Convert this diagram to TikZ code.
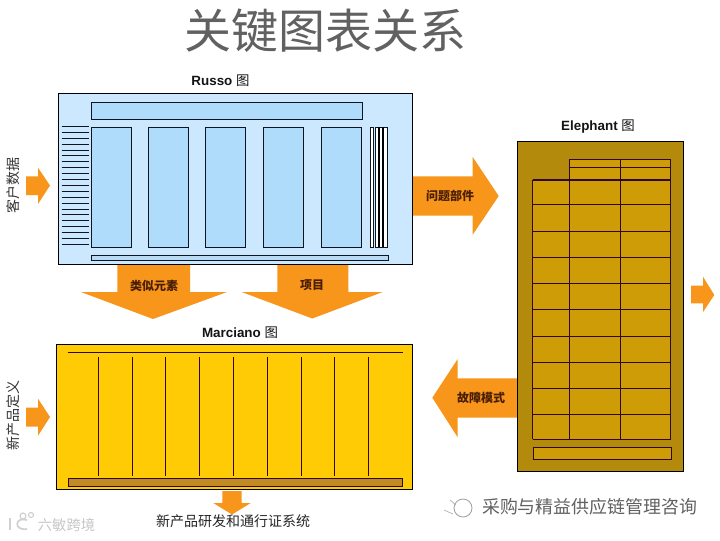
\documentclass[tikz,border=0pt]{standalone}
\usepackage{fontspec}
\setmainfont{Liberation Sans}
\newfontfamily\cjk{Noto Sans CJK SC}
\newcommand{\fpx}[1]{\fontsize{\fpeval{#1*0.75}pt}{\fpeval{#1*0.9}pt}\selectfont}
\definecolor{arrowor}{HTML}{F7961A}
\definecolor{rbg}{HTML}{CCE8FE}
\definecolor{rcol}{HTML}{AEDCFA}
\definecolor{rbar}{HTML}{BAD9F2}
\definecolor{ebg}{HTML}{B38A0C}
\definecolor{ecell}{HTML}{CE9C06}
\definecolor{mbg}{HTML}{FFCB05}
\definecolor{mbar}{HTML}{C08A24}
\definecolor{dline}{HTML}{30061A}
\definecolor{ink}{HTML}{0E1420}
\definecolor{lab}{HTML}{4A1E04}
\tikzset{
  x=0.75pt,y=-0.75pt,
  panelr/.style={draw=black,line width=0.75pt,fill=rbg,inner sep=0pt},
  panele/.style={draw=black,line width=0.75pt,fill=ebg,inner sep=0pt},
  panelm/.style={draw=black,line width=0.75pt,fill=mbg,inner sep=0pt},
  rpart/.style={draw=ink,line width=0.7pt,fill=rcol},
  rline/.style={draw=ink,line width=0.6pt},
  egrid/.style={draw=dline,line width=0.65pt},
  mline/.style={draw=dline,line width=0.65pt},
  blockarrow/.style={fill=arrowor},
  heading/.style={inner sep=0pt,font=\fpx{13.4}\bfseries,text=black!92},
  arrowlabel/.style={inner sep=0pt,font=\cjk\fpx{12}\bfseries,text=lab},
  sidelabel/.style={inner sep=0pt,font=\cjk\fpx{14},text=black!80,rotate=90},
}
\begin{document}
\begin{tikzpicture}
\useasboundingbox (0,0) rectangle (720,540);
\fill[white] (0,0) rectangle (720,540);

% title
\node[inner sep=0pt,font=\cjk\fpx{47},text=black!62] (title) at (325,31) {关键图表关系};

% block arrows (under the panels)
\fill[blockarrow] (26,176.3) -- (38,176.3) -- (38,167.7) -- (50,185.5) -- (38,204) -- (38,195) -- (26,195) -- cycle;
\fill[blockarrow] (26,407.7) -- (38,407.7) -- (38,398.7) -- (50,417) -- (38,435.7) -- (38,426.7) -- (26,426.7) -- cycle;
\fill[blockarrow] (411,176.3) -- (472.7,176.3) -- (472.7,157) -- (498.7,196) -- (472.7,234.7) -- (472.7,215.7) -- (411,215.7) -- cycle;
\fill[blockarrow] (117.3,262) -- (190,262) -- (190,292) -- (227,292) -- (153,319) -- (81,292) -- (117.3,292) -- cycle;
\fill[blockarrow] (277.3,262) -- (348.3,262) -- (348.3,292) -- (382.7,292) -- (312.3,318.5) -- (241.7,292) -- (277.3,292) -- cycle;
\fill[blockarrow] (691,285.7) -- (703,285.7) -- (703,276.7) -- (714.3,295) -- (703,312) -- (703,303.3) -- (691,303.3) -- cycle;
\fill[blockarrow] (519,378.3) -- (457.7,378.3) -- (457.7,359) -- (432.3,397.7) -- (457.7,437.3) -- (457.7,417.7) -- (519,417.7) -- cycle;
\fill[blockarrow] (222.3,491) -- (241.7,491) -- (241.7,503) -- (250.7,503) -- (232,514.5) -- (213.3,503) -- (222.3,503) -- cycle;

% Russo panel
\node[panelr,minimum width=265.9pt,minimum height=127.9pt] (russo) at (235.3,179.2) {};
\draw[rpart] (91.5,102) rectangle (362,119.5);
\foreach \a in {91.5,148.5,205.5,263.3,321.3}
  \draw[rpart] (\a,127.3) rectangle ({\a+40.2},247.3);
\draw[rpart,fill=rbar] (91.5,255.7) rectangle (388.3,260.5);
\foreach \i in {0,...,20}
  \draw[rline] (61.5,{126.3+\i*5.9}) -- (88.5,{126.3+\i*5.9});
\draw[rline,fill=white] (370.5,127.3) rectangle (373.8,247.3);
\draw[rline,fill=white] (375.3,127.3) rectangle (387.6,247.3);
\foreach \a in {379,383.2}
  \draw[draw=black,line width=1.1pt] (\a,127.3) -- (\a,247.3);

% Elephant panel
\node[panele,minimum width=124.5pt,minimum height=247.2pt] (elephant) at (600.3,306.5) {};
\path[fill=ecell] (569.4,159.3) rectangle (670.5,179.7);
\path[fill=ecell] (532.7,179.7) rectangle (670.5,439);
\foreach \a in {569.4,620.5,670.5}
  \draw[egrid] (\a,159.3) -- (\a,439);
\draw[egrid] (532.7,179.7) -- (532.7,439);
\draw[egrid] (569.4,159.3) -- (670.5,159.3);
\draw[egrid] (569.4,167.3) -- (670.5,167.3);
\draw[egrid,line width=1.3pt] (532.7,179.7) -- (670.5,179.7);
\foreach \b in {204.3,231,257,283.3,309.3,336.3,362.3,388.7,414.3,439}
  \draw[egrid] (532.7,\b) -- (670.5,\b);
\draw[egrid,fill=ecell] (533.3,447.3) rectangle (671.7,459.3);

% Marciano panel
\node[panelm,minimum width=266.7pt,minimum height=108.7pt] (marciano) at (234.5,416.8) {};
\draw[mline] (67.7,352.7) -- (402.7,352.7);
\foreach \a in {98.3,132.3,165.3,199.7,233.5,267.3,301.3,334.7,368.3}
  \draw[mline] (\a,357.3) -- (\a,475.7);
\draw[mline,fill=mbar] (68.3,478.7) rectangle (402.7,486.3);

% headings
\node[heading] (hr) at (220.5,81) {Russo {\cjk\mdseries 图}};
\node[heading] (he) at (598,127) {Elephant {\cjk\mdseries 图}};
\node[heading] (hm) at (240,333) {Marciano {\cjk\mdseries 图}};

% arrow labels
\node[sidelabel] (l1) at (13,185) {客户数据};
\node[sidelabel] (l2) at (13,415) {新产品定义};
\node[arrowlabel] (l3) at (450,196) {问题部件};
\node[arrowlabel] (l4) at (154,285.5) {类似元素};
\node[arrowlabel] (l5) at (312,285.5) {项目};
\node[arrowlabel] (l6) at (481,398) {故障模式};
\node[inner sep=0pt,font=\cjk\fpx{14},text=black!85] (l7) at (233,521) {新产品研发和通行证系统};

% watermarks
\draw[black!38,line width=0.6pt] (463,508) circle (9);
\draw[black!32,line width=0.5pt] (444,510) -- (453,514) (450,500) -- (456,505);
\node[inner sep=0pt,font=\cjk\fpx{17.9},text=black!62] (wm1) at (589.5,507) {采购与精益供应链管理咨询};
\draw[black!18,line width=1.3pt] (10,518) -- (10,530);
\draw[black!18,line width=1.3pt] (27,520) .. controls (15,516) and (13,531) .. (27,529);
\draw[black!18,line width=0.9pt] (23,516) circle (3) (31,515) circle (2.5);
\node[inner sep=0pt,font=\cjk\fpx{14.3},text=black!22] (wm2) at (66.5,525.5) {六敏跨境};
\end{tikzpicture}
\end{document}
